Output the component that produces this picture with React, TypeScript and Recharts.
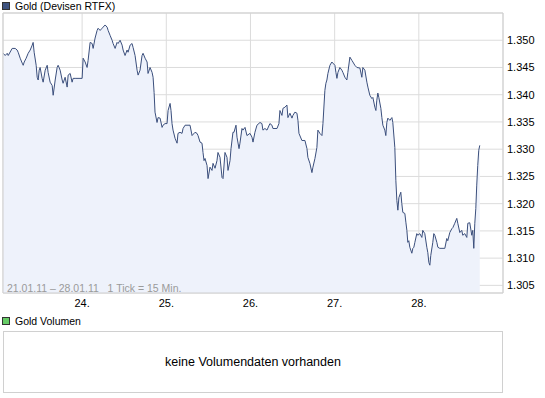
import { ComposedChart, Area, XAxis, YAxis, CartesianGrid, ReferenceArea } from 'recharts';

const dayTicks = [0, 1, 2, 3, 4];
const dayLabels = ['24.', '25.', '26.', '27.', '28.'];
const priceTicks = [1.305, 1.31, 1.315, 1.32, 1.325, 1.33, 1.335, 1.34, 1.345, 1.35];

// [day offset from 24.01., price]
const quotes: [number, number][] = [
  [-0.938, 1.3476], [-0.914, 1.3472], [-0.89, 1.3476], [-0.878, 1.3472], [-0.831, 1.3485], [-0.795, 1.3485],
  [-0.772, 1.3482], [-0.76, 1.3478], [-0.736, 1.3467], [-0.712, 1.3458], [-0.7, 1.3454], [-0.688, 1.346],
  [-0.665, 1.3467], [-0.641, 1.3476], [-0.617, 1.3482], [-0.593, 1.3491], [-0.582, 1.3496], [-0.57, 1.3478],
  [-0.546, 1.3454], [-0.534, 1.3432], [-0.522, 1.3427], [-0.51, 1.3445], [-0.499, 1.345], [-0.475, 1.343],
  [-0.463, 1.3423], [-0.439, 1.3445], [-0.415, 1.3454], [-0.404, 1.3441], [-0.38, 1.3423], [-0.356, 1.3417],
  [-0.344, 1.3399], [-0.32, 1.3427], [-0.297, 1.345], [-0.285, 1.3454], [-0.261, 1.3445], [-0.237, 1.3427],
  [-0.226, 1.3421], [-0.202, 1.3432], [-0.178, 1.3414], [-0.166, 1.3436], [-0.142, 1.3439], [-0.119, 1.3423],
  [-0.107, 1.343], [-0.083, 1.343], [0.0, 1.343], [0.012, 1.3467], [0.036, 1.346], [0.059, 1.345],
  [0.071, 1.3463], [0.095, 1.3496], [0.119, 1.3494], [0.131, 1.3485], [0.154, 1.3504], [0.178, 1.3518],
  [0.19, 1.3522], [0.214, 1.3518], [0.237, 1.3522], [0.249, 1.3524], [0.273, 1.3528], [0.297, 1.3524],
  [0.309, 1.3518], [0.332, 1.3509], [0.356, 1.35], [0.368, 1.3494], [0.392, 1.3485], [0.415, 1.3496],
  [0.427, 1.3494], [0.451, 1.35], [0.475, 1.3491], [0.487, 1.3482], [0.51, 1.3472], [0.534, 1.3482],
  [0.546, 1.3478], [0.57, 1.3491], [0.593, 1.3494], [0.605, 1.3487], [0.629, 1.3472], [0.653, 1.3445],
  [0.665, 1.3436], [0.688, 1.3445], [0.712, 1.3472], [0.724, 1.3476], [0.748, 1.3467], [0.772, 1.346],
  [0.783, 1.3439], [0.807, 1.345], [0.831, 1.3441], [0.843, 1.3432], [0.855, 1.3404], [0.866, 1.3368],
  [0.89, 1.3349], [0.902, 1.3358], [0.926, 1.3357], [0.95, 1.334], [0.961, 1.3344], [0.985, 1.3347],
  [1.009, 1.3347], [1.021, 1.3371], [1.045, 1.3384], [1.056, 1.3371], [1.068, 1.3347], [1.08, 1.3335],
  [1.104, 1.332], [1.128, 1.3311], [1.139, 1.3329], [1.163, 1.3331], [1.187, 1.3329], [1.199, 1.3338],
  [1.223, 1.3344], [1.282, 1.3344], [1.306, 1.3325], [1.341, 1.3331], [1.365, 1.3329], [1.377, 1.3325],
  [1.401, 1.3313], [1.424, 1.3311], [1.436, 1.3294], [1.448, 1.3279], [1.46, 1.3283], [1.484, 1.327],
  [1.496, 1.3246], [1.519, 1.3267], [1.543, 1.3261], [1.555, 1.3274], [1.579, 1.3265], [1.602, 1.3279],
  [1.614, 1.3294], [1.638, 1.3285], [1.662, 1.3248], [1.674, 1.3246], [1.697, 1.3294], [1.721, 1.3285],
  [1.733, 1.3261], [1.757, 1.3279], [1.769, 1.3301], [1.792, 1.3331], [1.804, 1.3331], [1.828, 1.3344],
  [1.84, 1.3322], [1.864, 1.3301], [1.875, 1.3311], [1.899, 1.3338], [1.911, 1.3335], [1.935, 1.334],
  [1.958, 1.3325], [1.994, 1.3329], [2.018, 1.3322], [2.03, 1.3313], [2.053, 1.3331], [2.077, 1.3344],
  [2.113, 1.3349], [2.136, 1.3347], [2.148, 1.3335], [2.172, 1.3338], [2.196, 1.3335], [2.231, 1.3347],
  [2.255, 1.3344], [2.267, 1.3338], [2.315, 1.3338], [2.338, 1.3347], [2.35, 1.3371], [2.374, 1.3362],
  [2.386, 1.3375], [2.409, 1.3377], [2.433, 1.3381], [2.445, 1.3358], [2.469, 1.3366], [2.493, 1.3357],
  [2.504, 1.3362], [2.528, 1.3368], [2.552, 1.3366], [2.564, 1.3353], [2.576, 1.3329], [2.611, 1.3316],
  [2.647, 1.3316], [2.671, 1.3301], [2.682, 1.3285], [2.706, 1.3274], [2.73, 1.3257], [2.742, 1.3267],
  [2.766, 1.3283], [2.789, 1.3303], [2.801, 1.3335], [2.825, 1.3329], [2.849, 1.3325], [2.861, 1.3347],
  [2.884, 1.3408], [2.896, 1.3421], [2.908, 1.3427], [2.92, 1.3439], [2.944, 1.3454], [2.967, 1.346],
  [2.979, 1.3458], [3.003, 1.3454], [3.015, 1.3441], [3.027, 1.343], [3.039, 1.3441], [3.062, 1.345],
  [3.086, 1.3445], [3.098, 1.3441], [3.122, 1.3432], [3.145, 1.3427], [3.157, 1.3441], [3.181, 1.3469],
  [3.205, 1.3463], [3.217, 1.346], [3.24, 1.3454], [3.264, 1.345], [3.3, 1.3449], [3.323, 1.3432],
  [3.335, 1.345], [3.359, 1.3445], [3.383, 1.3423], [3.395, 1.3414], [3.418, 1.3399], [3.442, 1.3393],
  [3.454, 1.3395], [3.478, 1.3377], [3.49, 1.3371], [3.501, 1.339], [3.513, 1.3403], [3.525, 1.3395],
  [3.549, 1.3375], [3.561, 1.3358], [3.573, 1.3344], [3.596, 1.3335], [3.608, 1.3325], [3.62, 1.3349],
  [3.632, 1.3357], [3.656, 1.3353], [3.68, 1.3358], [3.691, 1.3349], [3.715, 1.3303], [3.727, 1.3243],
  [3.739, 1.3206], [3.751, 1.3188], [3.763, 1.3211], [3.786, 1.3221], [3.798, 1.32], [3.81, 1.3184],
  [3.834, 1.3182], [3.846, 1.3166], [3.858, 1.3151], [3.869, 1.3129], [3.881, 1.3132], [3.893, 1.312],
  [3.917, 1.3109], [3.929, 1.3118], [3.941, 1.312], [3.953, 1.3129], [3.976, 1.3145], [3.988, 1.3142],
  [4.012, 1.3145], [4.036, 1.3138], [4.047, 1.3151], [4.071, 1.3145], [4.095, 1.312], [4.107, 1.311],
  [4.119, 1.3092], [4.131, 1.3087], [4.142, 1.3105], [4.166, 1.3129], [4.178, 1.3145], [4.19, 1.3142],
  [4.214, 1.3129], [4.226, 1.312], [4.249, 1.3118], [4.309, 1.3118], [4.332, 1.3136], [4.344, 1.3132],
  [4.368, 1.3147], [4.392, 1.3154], [4.404, 1.3156], [4.427, 1.3164], [4.451, 1.3173], [4.463, 1.3164],
  [4.487, 1.3147], [4.51, 1.3151], [4.522, 1.3142], [4.546, 1.3145], [4.57, 1.3138], [4.582, 1.3164],
  [4.605, 1.3165], [4.629, 1.3142], [4.641, 1.3151], [4.653, 1.3118], [4.665, 1.3164], [4.677, 1.3191],
  [4.688, 1.3234], [4.7, 1.327], [4.712, 1.3298], [4.724, 1.3307],
];

const data = quotes.map(([t, price]) => ({ t, price }));

const X_MIN = -0.94;
const X_MAX = 5;
const Y_MIN = 1.3036;
const Y_MAX = 1.355;

const font = '"Liberation Sans", Arial, sans-serif';

function LegendBox({ color }: { color: string }) {
  return (
    <span
      style={{
        display: 'inline-block',
        width: 6,
        height: 6,
        background: color,
        border: '1px solid #333',
        marginRight: 5,
        verticalAlign: 'middle',
        position: 'relative',
        top: -1,
      }}
    />
  );
}

export default function App() {
  return (
    <div style={{ position: 'absolute', left: 0, top: 0, width: 545, height: 398, background: '#fff', fontFamily: font }}>
      <div style={{ position: 'absolute', left: 2, top: 0, fontSize: 10.5, color: '#000', lineHeight: '13px', whiteSpace: 'nowrap' }}>
        <LegendBox color="#3e5380" />
        Gold (Devisen RTFX)
      </div>
      <ComposedChart width={545} height={310} data={data} margin={{ top: 13, right: 0, bottom: 0, left: 3 }}>
        <CartesianGrid stroke="#dcdcdc" />
        <XAxis
          type="number"
          dataKey="t"
          domain={[X_MIN, X_MAX]}
          ticks={dayTicks}
          tickFormatter={(v) => dayLabels[dayTicks.indexOf(v)]}
          allowDataOverflow
          axisLine={false}
          tickLine={false}
          tickSize={4}
          tickMargin={2}
          height={17}
          tick={{ fontSize: 11, fill: '#000', fontFamily: font }}
        />
        <YAxis
          orientation="right"
          domain={[Y_MIN, Y_MAX]}
          ticks={priceTicks}
          tickFormatter={(v) => v.toFixed(3)}
          allowDataOverflow
          axisLine={false}
          tickLine={false}
          tickSize={4}
          tickMargin={0}
          width={42}
          tick={{ fontSize: 11, fill: '#000', fontFamily: font, textAnchor: 'start' }}
        />
        <Area
          type="linear"
          dataKey="price"
          stroke="#3b4f7c"
          strokeWidth={1}
          fill="#eef2fb"
          fillOpacity={1}
          isAnimationActive={false}
          dot={false}
          activeDot={false}
        />
        <ReferenceArea x1={X_MIN} x2={X_MAX} y1={Y_MIN} y2={Y_MAX} fill="none" stroke="#cfcfcf" strokeWidth={1} />
      </ComposedChart>
      <div style={{ position: 'absolute', left: 7, top: 282, fontSize: 10.5, color: '#9a9a9a', whiteSpace: 'pre', lineHeight: '12px' }}>
        {'21.01.11 \u2013 28.01.11   1 Tick = 15 Min.'}
      </div>
      <div style={{ position: 'absolute', left: 2, top: 315, fontSize: 10.5, color: '#000', lineHeight: '13px', whiteSpace: 'nowrap' }}>
        <LegendBox color="#66cc66" />
        Gold Volumen
      </div>
      <div
        style={{
          position: 'absolute',
          left: 3,
          top: 331,
          width: 498,
          height: 60,
          border: '1px solid #d0d0d0',
          display: 'flex',
          alignItems: 'center',
          justifyContent: 'center',
          fontSize: 12.5,
          color: '#000',
        }}
      >
        keine Volumendaten vorhanden
      </div>
    </div>
  );
}
